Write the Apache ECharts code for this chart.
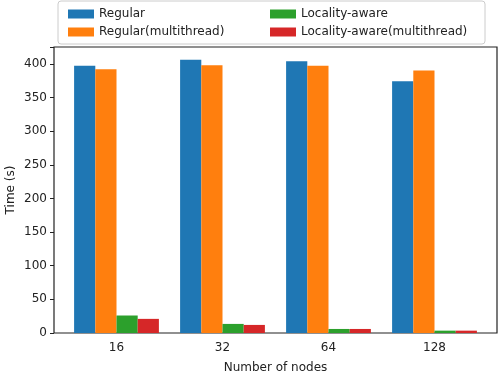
<!DOCTYPE html>
<html lang="en">
<head>
    <meta charset="UTF-8">
    <title>Time vs nodes</title>
    <script src="https://cdn.jsdelivr.net/npm/echarts@6/dist/echarts.min.js"></script>
</head>
<body style="margin:0">
    <div id="main" style="width:498px;height:372px"></div>
    <script>
        var nodes = ['16', '32', '64', '128']
        var regular = [397, 406, 404, 374]
        var regularMt = [392, 398, 397, 390]
        var locality = [26, 13.5, 6, 3.5]
        var localityMt = [21, 12, 6, 3.5]
        var yTicks = [0, 50, 100, 150, 200, 250, 300, 350, 400]

        var font = 'DejaVu Sans'
        var myChart = echarts.init(document.getElementById('main'))

        function bar(name, data, color) {
            return {
                name: name,
                type: 'bar',
                data: data,
                xAxisIndex: 1,
                yAxisIndex: 1,
                barGap: '0%',
                barCategoryGap: '20%',
                itemStyle: { color: color },
                emphasis: { disabled: true }
            }
        }

        var legendText = { fontFamily: font, fontSize: 12, color: '#222' }

        var option = {
            animation: false,
            textStyle: { fontFamily: font },
            // outer grid only draws the frame box
            grid: [
                { left: 54, right: 1, top: 47, bottom: 39, show: true, borderColor: '#222', borderWidth: 1.2, outerBoundsMode: 'none' },
                { left: 63.5, right: 10.5, top: 47, bottom: 39, outerBoundsMode: 'none' }
            ],
            graphic: [{
                type: 'rect',
                shape: { x: 58, y: 1, width: 427, height: 43, r: 3 },
                style: { fill: '#fff', stroke: '#ccc', lineWidth: 1 }
            }],
            legend: [{
                orient: 'vertical', left: 63, top: 3, itemGap: 6,
                itemWidth: 26, itemHeight: 9,
                data: ['Regular', 'Regular(multithread)'],
                textStyle: legendText, icon: 'rect'
            }, {
                orient: 'vertical', left: 265, top: 3, itemGap: 6,
                itemWidth: 26, itemHeight: 9,
                data: ['Locality-aware', 'Locality-aware(multithread)'],
                textStyle: legendText, icon: 'rect'
            }],
            xAxis: [{
                gridIndex: 0, type: 'value', show: false, min: 0, max: 1
            }, {
                gridIndex: 1,
                type: 'category',
                data: nodes,
                name: 'Number of nodes',
                nameLocation: 'middle',
                nameGap: 29,
                nameMoveOverlap: false,
                nameTextStyle: { fontSize: 12, color: '#222', fontFamily: font },
                axisLine: { show: false },
                axisTick: { alignWithLabel: true, length: 4, lineStyle: { color: '#222' } },
                axisLabel: { fontSize: 12, color: '#222', margin: 9 }
            }],
            yAxis: [{
                gridIndex: 0, type: 'value', show: false, min: 0, max: 1
            }, {
                gridIndex: 1,
                type: 'value',
                min: 0,
                max: 425,
                interval: 50,
                offset: 9.5,
                name: 'Time (s)',
                nameLocation: 'middle',
                nameGap: 37,
                nameMoveOverlap: false,
                nameTextStyle: { fontSize: 12, color: '#222', fontFamily: font },
                axisLine: { show: false },
                axisTick: { show: true, length: 4, lineStyle: { color: '#222' } },
                axisLabel: {
                    fontSize: 12, color: '#222', margin: 7,
                    formatter: function (v) { return yTicks.indexOf(v) >= 0 ? v : '' }
                },
                splitLine: { show: false }
            }],
            series: [
                bar('Regular', regular, '#1f77b4'),
                bar('Regular(multithread)', regularMt, '#ff7f0e'),
                bar('Locality-aware', locality, '#2ca02c'),
                bar('Locality-aware(multithread)', localityMt, '#d62728')
            ]
        }
        myChart.setOption(option)
    </script>
</body>
</html>
